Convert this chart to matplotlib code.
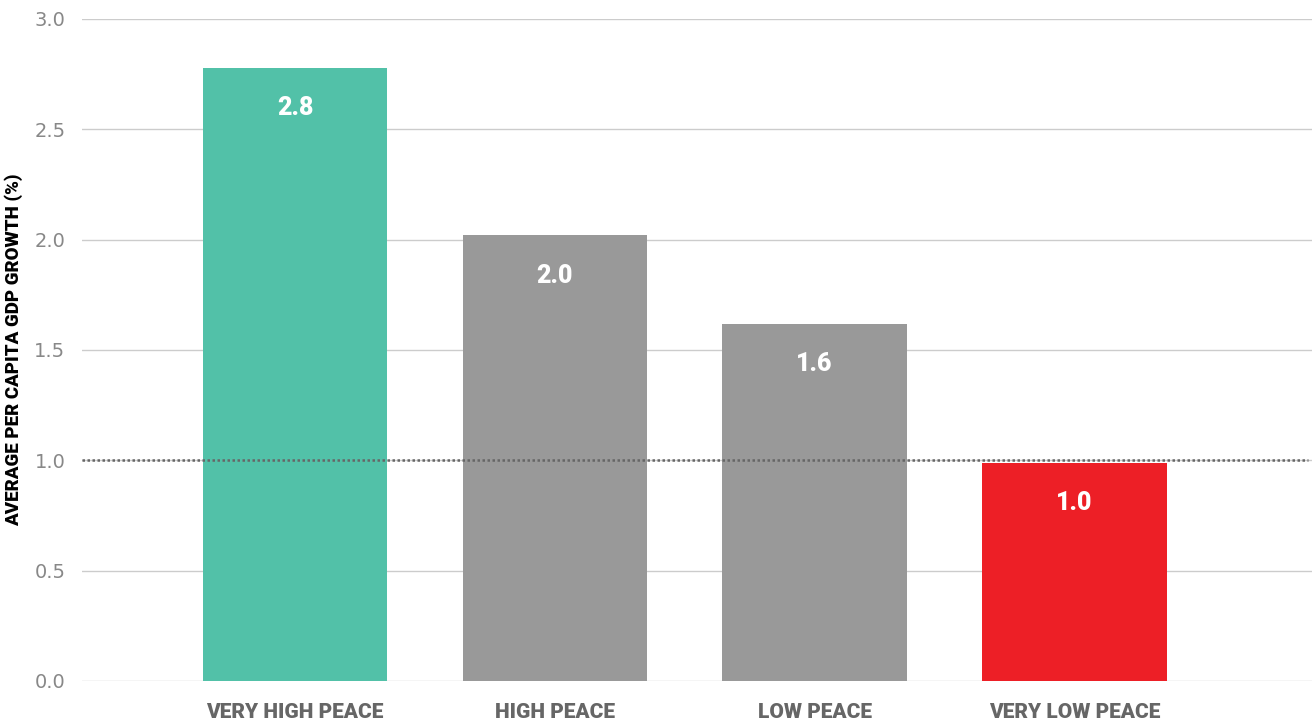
import matplotlib.pyplot as plt

categories = ['VERY HIGH PEACE', 'HIGH PEACE', 'LOW PEACE', 'VERY LOW PEACE']
growth = [2.78, 2.02, 1.62, 0.99]
value_labels = ['2.8', '2.0', '1.6', '1.0']
colors = ['#52c1a8', '#999999', '#999999', '#ed1f26']
reference_level = 1.0

fig = plt.figure(figsize=(13.12, 7.24), dpi=100)
ax = fig.add_axes([0.0625, 0.0594, 0.9375, 0.9144])

x = range(len(categories))
ax.bar(x, growth, width=0.71, color=colors, zorder=2)

for i, (v, lab) in enumerate(zip(growth, value_labels)):
    ax.text(i, v - 0.185, lab, ha='center', va='center', color='white',
            fontsize=18, fontweight='heavy', family=['Roboto', 'DejaVu Sans'], zorder=3)

ax.axhline(reference_level, xmin=0, xmax=0.997, color='#666666', linestyle=(0, (1, 1)),
           linewidth=1.8, zorder=4)

ax.set_xlim(-0.82, 3.915)
ax.set_ylim(0, 3.0)
ax.set_yticks([0, 0.5, 1.0, 1.5, 2.0, 2.5, 3.0])
ax.set_yticklabels(['0.0', '0.5', '1.0', '1.5', '2.0', '2.5', '3.0'])
ax.grid(axis='y', color='#cccccc', linewidth=1, zorder=0)
ax.set_axisbelow(True)

ax.set_xticks(list(x))
ax.set_xticklabels(categories, fontsize=15, fontweight='heavy', color='#666666',
                   family=['Roboto', 'DejaVu Sans'])
ax.tick_params(axis='x', length=0, pad=16)
ax.tick_params(axis='y', length=0, pad=12, labelsize=14, labelcolor='#888888')

for s in ax.spines.values():
    s.set_visible(False)

ax.set_ylabel('AVERAGE PER CAPITA GDP GROWTH (%)', fontsize=13.5, fontweight='heavy',
              color='black', family=['Roboto', 'DejaVu Sans'], labelpad=8)

fig.savefig('out.png', dpi=100)
